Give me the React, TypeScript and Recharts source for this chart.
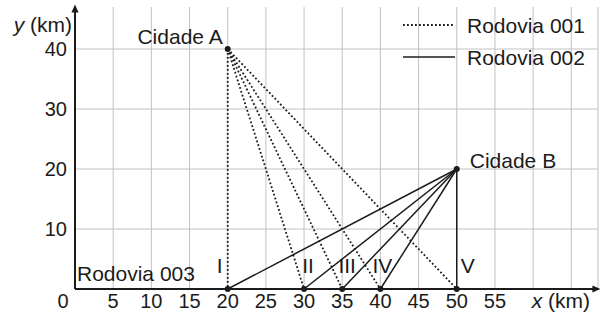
import { ComposedChart, Line, Scatter, XAxis, YAxis, CartesianGrid, ReferenceDot, ReferenceLine } from 'recharts'

// cities and the junctions on Rodovia 003 (km)
const cityA = { x: 20, y: 40, name: 'Cidade A' }
const cityB = { x: 50, y: 20, name: 'Cidade B' }
const junctionX = [20, 30, 35, 40, 50]
const junctionNames = ['I', 'II', 'III', 'IV', 'V']

const xTicks = [0, 5, 10, 15, 20, 25, 30, 35, 40, 45, 50, 55, 60, 65]
const xTickLabels = [0, 5, 10, 15, 20, 25, 30, 35, 40, 45, 50, 55]
const yTicks = [0, 10, 20, 30, 40]
const legendNames = ['Rodovia 001', 'Rodovia 002']
const baseRoadName = 'Rodovia 003'

const rodovia001 = junctionX.map((x) => [{ x: cityA.x, y: cityA.y }, { x, y: 0 }])
const rodovia002 = junctionX.map((x) => [{ x: cityB.x, y: cityB.y }, { x, y: 0 }])
const dots = [cityA, cityB, ...junctionX.map((x) => ({ x, y: 0 }))]

const FONT = '"Liberation Sans", Arial, sans-serif'
const INK = '#1b1b1b'
const GRID = '#c2c2c2'

// small nudges so the roman numerals sit between the roads, like the original
const numeralDx = [-8, 4, 5, 2, 11]

const XTick = (props: any) => {
  const { x, y, payload } = props
  if (!xTickLabels.includes(payload.value)) return <g />
  return (
    <text x={x + (payload.value === 0 ? -12 : 0)} y={y + 11} textAnchor="middle" fontSize={20} fill={INK} fontFamily={FONT}>
      {payload.value}
    </text>
  )
}

const YTick = (props: any) => {
  const { x, y, payload } = props
  if (payload.value === 0) return <g />
  return (
    <text x={x} y={y} dy="0.36em" textAnchor="end" fontSize={20} fill={INK} fontFamily={FONT}>
      {payload.value}
    </text>
  )
}

export default function App() {
  return (
    <div style={{ position: 'absolute', left: 0, top: 0, width: 602, height: 320, background: '#fff' }}>
      <svg width={0} height={0} style={{ position: 'absolute' }}>
        <defs>
          <marker id="axisArrow" viewBox="0 0 10 10" refX={7} refY={5} markerWidth={9} markerHeight={8} markerUnits="userSpaceOnUse" orient="auto-start-reverse">
            <path d="M0,0.5 L10,5 L0,9.5 z" fill={INK} />
          </marker>
        </defs>
      </svg>
      <ComposedChart width={602} height={320} margin={{ top: 7, right: 4, left: 30, bottom: 1 }}>
        <CartesianGrid stroke={GRID} strokeWidth={1} horizontal={false} />
        {yTicks.slice(1).map((v) => (
          <ReferenceLine key={`h-${v}`} y={v} stroke={GRID} strokeWidth={1} />
        ))}
        <XAxis
          type="number"
          dataKey="x"
          domain={[0, 68.5]}
          ticks={xTicks}
          interval={0}
          height={30}
          tickLine={false}
          tick={<XTick />}
          axisLine={{ stroke: INK, strokeWidth: 2, markerEnd: 'url(#axisArrow)' }}
          label={{
            content: (p: any) => {
              const vb = p.viewBox
              return (
                <text x={vb.x + vb.width - 8} y={vb.y + 19} textAnchor="end" fontSize={21} fill={INK} fontFamily={FONT}>
                  <tspan fontStyle="italic">x</tspan> (km)
                </text>
              )
            },
          }}
        />
        <YAxis
          type="number"
          dataKey="y"
          domain={[0, 47]}
          ticks={yTicks}
          interval={0}
          width={45}
          tickLine={false}
          tick={<YTick />}
          axisLine={{ stroke: INK, strokeWidth: 2, markerStart: 'url(#axisArrow)' }}
          label={{
            content: (p: any) => {
              const vb = p.viewBox
              return (
                <text x={vb.x + vb.width - 3} y={vb.y + 25} textAnchor="end" fontSize={21} fill={INK} fontFamily={FONT}>
                  <tspan fontStyle="italic">y</tspan> (km)
                </text>
              )
            },
          }}
        />
        {rodovia001.map((seg, i) => (
          <Line
            key={`r1-${i}`}
            data={seg}
            dataKey="y"
            type="linear"
            stroke={INK}
            strokeWidth={1.8}
            strokeDasharray="1.8 2.2"
            dot={false}
            activeDot={false}
            isAnimationActive={false}
          />
        ))}
        {rodovia002.map((seg, i) => (
          <Line
            key={`r2-${i}`}
            data={seg}
            dataKey="y"
            type="linear"
            stroke={INK}
            strokeWidth={1.5}
            dot={false}
            activeDot={false}
            isAnimationActive={false}
          />
        ))}
        <Scatter
          data={dots}
          dataKey="y"
          isAnimationActive={false}
          shape={(p: any) => <circle cx={p.cx} cy={p.cy} r={3} fill={INK} />}
        />
        <ReferenceDot
          x={cityA.x}
          y={cityA.y}
          shape={(p: any) => (
            <text x={p.cx - 5} y={p.cy - 5} textAnchor="end" fontSize={21} fill={INK} fontFamily={FONT}>
              {cityA.name}
            </text>
          )}
        />
        <ReferenceDot
          x={cityB.x}
          y={cityB.y}
          shape={(p: any) => (
            <text x={p.cx + 13} y={p.cy - 1} textAnchor="start" fontSize={21} fill={INK} fontFamily={FONT}>
              {cityB.name}
            </text>
          )}
        />
        {junctionX.map((x, i) => (
          <ReferenceDot
            key={`n-${i}`}
            x={x}
            y={0}
            shape={(p: any) => (
              <text x={p.cx + numeralDx[i]} y={p.cy - 16} textAnchor="middle" fontSize={21} fill={INK} fontFamily={FONT}>
                {junctionNames[i]}
              </text>
            )}
          />
        ))}
        <ReferenceDot
          x={0}
          y={0}
          shape={(p: any) => (
            <text x={p.cx + 2} y={p.cy - 8} textAnchor="start" fontSize={21} fill={INK} fontFamily={FONT}>
              {baseRoadName}
            </text>
          )}
        />
      </ComposedChart>
      <svg width={602} height={320} style={{ position: 'absolute', left: 0, top: 0, pointerEvents: 'none' }}>
        <line x1={403} y1={25} x2={455} y2={25} stroke={INK} strokeWidth={1.8} strokeDasharray="1.8 2.2" />
        <text x={467} y={33} fontSize={21} fill={INK} fontFamily={FONT}>
          {legendNames[0]}
        </text>
        <line x1={403} y1={57} x2={455} y2={57} stroke={INK} strokeWidth={1.5} />
        <text x={467} y={65} fontSize={21} fill={INK} fontFamily={FONT}>
          {legendNames[1]}
        </text>
      </svg>
    </div>
  )
}
